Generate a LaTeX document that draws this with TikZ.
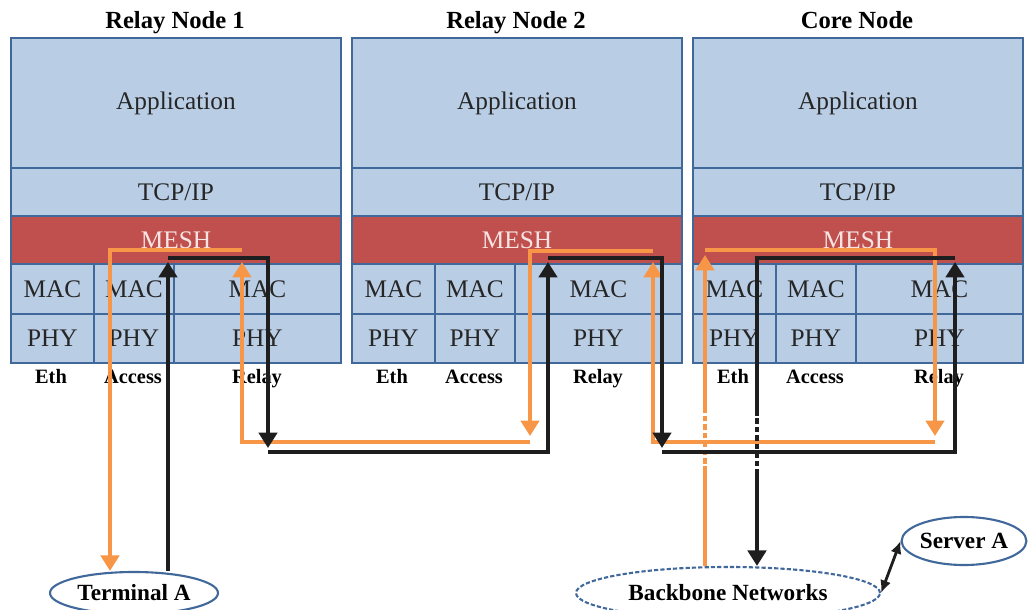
\documentclass[tikz,border=0pt]{standalone}
\usepackage{fontspec}
\setmainfont{Liberation Serif}
\usetikzlibrary{arrows.meta,shapes.geometric}
\definecolor{layerfill}{HTML}{B9CDE5}
\definecolor{layerline}{HTML}{41689A}
\definecolor{meshred}{HTML}{C0504D}
\definecolor{meshtext}{HTML}{F6E4E3}
\definecolor{flowor}{HTML}{F79646}
\definecolor{flowbk}{HTML}{1E1E1E}
\tikzset{layer/.style={draw=layerline, fill=layerfill, line width=1.3pt, anchor=north west, inner sep=0pt, text=black!85, font=\fontsize{18}{18}\selectfont}}
\tikzset{mesh/.style={layer, fill=meshred, text=meshtext}}
\tikzset{title/.style={anchor=base, font=\bfseries\fontsize{17.5}{17.5}\selectfont}}
\tikzset{port/.style={anchor=base, font=\bfseries\fontsize{14.5}{14.5}\selectfont}}
\tikzset{host/.style={ellipse, draw=layerline, line width=1.5pt, inner sep=0pt, font=\bfseries\fontsize{16.5}{16.5}\selectfont}}
\tikzset{oline/.style={draw=flowor, line width=2.8pt}}
\tikzset{kline/.style={draw=flowbk, line width=2.8pt}}
\tikzset{oflow/.style={oline, -{Triangle[length=11pt,width=13pt]}}}
\tikzset{kflow/.style={kline, -{Triangle[length=11pt,width=13pt]}}}
\tikzset{gap/.style={dash pattern=on 4pt off 2pt}}

\begin{document}
\begin{tikzpicture}[x=0.025cm,y=-0.025cm]
        \useasboundingbox (0,0) rectangle (1028,610);
        % Protocol stacks of the three nodes
        \foreach \x/\id/\lbl in {10/ra/Relay Node 1,351/rb/Relay Node 2,692/cn/Core Node}{
            \node[title] (\id-title) at (\x+165,29) {\lbl};
            \node[layer, minimum width=8.25cm, minimum height=3.25cm] (\id-app) at (\x,37) {Application};
            \node[layer, minimum width=8.25cm, minimum height=1.2cm] (\id-tcp) at (\x,167) {TCP/IP};
            \node[mesh, minimum width=8.25cm, minimum height=1.2cm] (\id-mesh) at (\x,215) {MESH};
            \node[layer, minimum width=2.075cm, minimum height=1.25cm] (\id-emac) at (\x,263) {MAC};
            \node[layer, minimum width=2cm, minimum height=1.25cm] (\id-amac) at (\x+83,263) {MAC};
            \node[layer, minimum width=4.175cm, minimum height=1.25cm] (\id-rmac) at (\x+163,263) {MAC};
            \node[layer, minimum width=2.075cm, minimum height=1.225cm] (\id-ephy) at (\x,313) {PHY};
            \node[layer, minimum width=2cm, minimum height=1.225cm] (\id-aphy) at (\x+83,313) {PHY};
            \node[layer, minimum width=4.175cm, minimum height=1.225cm] (\id-rphy) at (\x+163,313) {PHY};
            \node[port] (\id-eth) at (\x+41,383) {Eth};
            \node[port] (\id-acc) at (\x+123,383) {Access};
            \node[port] (\id-rel) at (\x+247,383) {Relay};
        }
        % End points
        \node[host, minimum width=4.2cm, minimum height=1.05cm] (termA) at (134,593) {Terminal A};
        \node[host, dash pattern=on 3pt off 1.5pt, minimum width=7.6cm, minimum height=1.3cm] (bbn) at (728,593) {Backbone Networks};
        \node[host, minimum width=3.1cm, minimum height=1.2cm] (srvA) at (964,541) {Server A};
        \draw[flowbk, line width=2pt, {Latex[length=9pt,width=8pt]}-{Latex[length=9pt,width=8pt]}] (bbn.east) -- (srvA.west);
        % Downlink: backbone to terminal (orange)
        \draw[oline] (bbn.north -| 705,0) -- (705,472);
        \draw[oline, gap] (705,472) -- (705,410);
        \draw[oflow] (705,410) -- (705,255);
        \draw[oflow] (705,250) -| (935,436);
        \draw[oflow] (935,442) -| (653,262);
        \draw[oflow] (653,251) -| (530,436);
        \draw[oflow] (530,442) -| (242,262);
        \draw[oflow] (242,250) -| (termA.north -| 110,0);
        % Uplink: terminal to backbone (black)
        \draw[kflow] (termA.north -| 168,0) -- (168,262);
        \draw[kflow] (168,258) -| (268,448);
        \draw[kflow] (268,452) -| (548,262);
        \draw[kflow] (548,258) -| (662,448);
        \draw[kflow] (662,452) -| (955,262);
        \draw[kline] (955,258) -| (757,410);
        \draw[kline, gap] (757,410) -- (757,472);
        \draw[kflow] (757,472) -- (bbn.north -| 757,0);
    \end{tikzpicture}
\end{document}
